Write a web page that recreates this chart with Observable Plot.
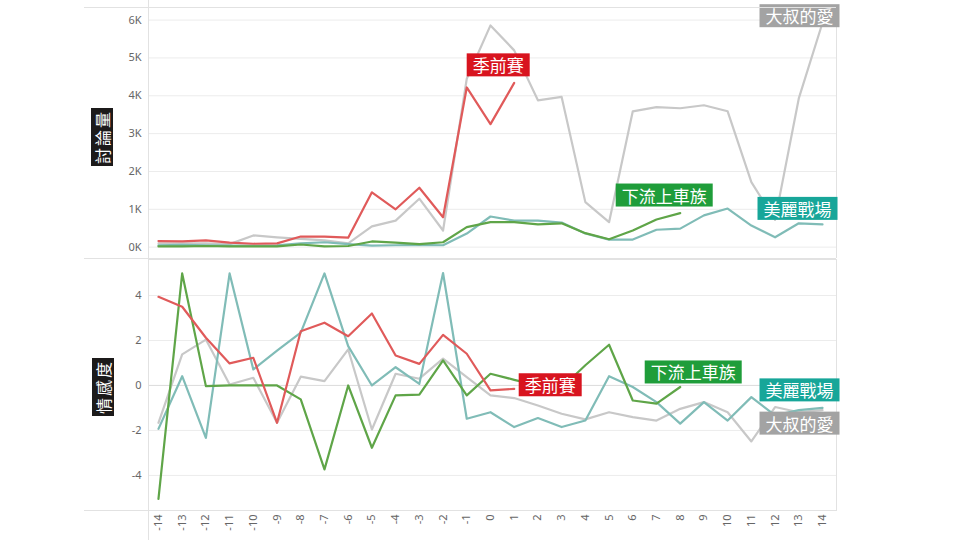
<!DOCTYPE html>
<html>
<head>
<meta charset="utf-8">
<script src="https://cdn.jsdelivr.net/npm/d3@7"></script>
<script src="https://cdn.jsdelivr.net/npm/@observablehq/plot@0.6"></script>
<style>
  body { margin: 0; background: #fff; }
  #wrap { position: relative; width: 960px; height: 540px; overflow: hidden; font-family: "Noto Sans", "Open Sans", sans-serif; }
  #wrap svg { display: block; }
  .hline { position: absolute; left: 84px; width: 752px; height: 0; border-top: 1px solid #e2e2e2; }
  .vline { position: absolute; top: 0; height: 540px; width: 0; border-left: 1px solid #e2e2e2; }
  .ytitle { position: absolute; width: 58px; height: 22px; line-height: 22px; background: #1c1a1a; color: #fff;
            font-family: "Noto Sans CJK TC", sans-serif; font-size: 16px; text-align: center; letter-spacing: 2px;
            transform: rotate(-90deg); }
</style>
</head>
<body>
<div id="wrap">
  <div id="topPanel"></div>
  <div id="bottomPanel"></div>
</div>
<script>
// x: days relative to event
const days = d3.range(-14, 15);
const xTicks = days;

// series names
const names = ["季前賽", "大叔的愛", "下流上車族", "美麗戰場"];

// 討論量 (discussion volume)
const volRed   = [160,150,180,120,90,100,280,280,250,1450,1000,1570,790,4220,3250,4340];              // -14..1
const volGray  = [100,100,100,80,310,260,220,180,100,550,700,1280,440,4450,5860,5200,3880,3970,1190,660,3590,3700,3670,3750,3590,1720,720,3930,5930]; // -14..14
const volGreen = [20,20,30,20,20,20,70,20,30,150,120,80,130,530,660,660,600,630,370,210,440,730,900];   // -14..8
const volTeal  = [50,60,50,40,40,50,100,130,80,40,50,60,50,360,810,700,700,650,360,200,200,460,490,840,1020,570,260,630,600]; // -14..14

// 情感度 (sentiment)
const senRed   = [3.94,3.5,2.12,0.98,1.23,-1.66,2.41,2.79,2.19,3.2,1.33,0.96,2.25,1.41,-0.22,-0.15];
const senGray  = [-1.66,1.38,2.04,0.04,0.34,-1.66,0.39,0.19,1.6,-1.96,0.52,0.3,1.19,0.37,-0.44,-0.56,-0.89,-1.26,-1.51,-1.19,-1.41,-1.56,-1.04,-0.74,-1.19,-2.49,-0.96,-1.19,-1.1];
const senGreen = [-5.04,4.98,-0.03,0,0,0,-0.62,-3.73,0,-2.77,-0.44,-0.41,1.11,-0.44,0.52,0.25,0.0,-0.1,0.9,1.81,-0.67,-0.81,-0.07];
const senTeal  = [-1.93,0.41,-2.33,4.98,0.71,1.55,2.35,4.98,1.75,0.0,0.81,0.07,5.0,-1.48,-1.19,-1.85,-1.45,-1.85,-1.56,0.41,-0.07,-0.74,-1.7,-0.74,-1.56,-0.52,-1.33,-1.1,-1.0];

const volTicks = [0,1000,2000,3000,4000,5000,6000];
const senTicks = [-4,-2,0,2,4];

const lineColor = {"季前賽": "#e05a5a", "大叔的愛": "#c8c8c8", "下流上車族": "#5fa548", "美麗戰場": "#80bcb7"};
const boxColor  = {"季前賽": "#d8141f", "大叔的愛": "#a3a3a3", "下流上車族": "#1f9d3a", "美麗戰場": "#17a699"};

function toRows(name, vals) { return vals.map((v, i) => ({name, x: days[i], y: v})); }
const volRows = [toRows("大叔的愛", volGray), toRows("美麗戰場", volTeal), toRows("下流上車族", volGreen), toRows("季前賽", volRed)];
const senRows = [toRows("大叔的愛", senGray), toRows("美麗戰場", senTeal), toRows("下流上車族", senGreen), toRows("季前賽", senRed)];

const xDomain = [-14.42, 14.59];
const tickFont = "11px";

function labelMark(rows, name, xv, dx, dy) {
  const d = rows.flat().filter(r => r.name === name && r.x === xv);
  return Plot.text(d, {x: "x", y: "y", text: d => d.name, dx, dy, fill: "white",
    fontSize: 17, fontFamily: "Noto Sans CJK TC", textAnchor: "middle", lineAnchor: "middle"});
}

function lines(rows) {
  return rows.map(r => Plot.line(r, {x: "x", y: "y", stroke: lineColor[r[0].name], strokeWidth: 2.2, curve: "linear"}));
}

const topPlot = Plot.plot({
  width: 960, height: 258,
  marginLeft: 148, marginRight: 124, marginTop: 7, marginBottom: 0,
  style: {fontFamily: "Noto Sans, sans-serif", fontSize: tickFont, color: "#666", background: "transparent"},
  x: {domain: xDomain, axis: null},
  y: {domain: [-300, 6333], ticks: volTicks, tickFormat: d => d / 1000 + "K", tickSize: 0, tickPadding: 7, label: null, grid: false},
  marks: [
    Plot.gridY(volTicks, {stroke: "#ececec", strokeOpacity: 1}),
    Plot.frame({stroke: "#e2e2e2"}),
    ...lines(volRows),
    labelMark(volRows, "季前賽", 1, -16, -16),
    labelMark(volRows, "大叔的愛", 14, -23, -5),
    labelMark(volRows, "下流上車族", 8, -16, -16),
    labelMark(volRows, "美麗戰場", 14, -25, -14)
  ]
});

const bottomPlot = Plot.plot({
  width: 960, height: 282,
  marginLeft: 148, marginRight: 124, marginTop: 1, marginBottom: 30,
  style: {fontFamily: "Noto Sans, sans-serif", fontSize: tickFont, color: "#666", background: "transparent"},
  x: {domain: xDomain, ticks: xTicks, tickFormat: d => String(d), tickRotate: -90, tickSize: 0, tickPadding: 4, label: null},
  y: {domain: [-5.56, 5.6], ticks: senTicks, tickFormat: d => String(d), tickSize: 0, tickPadding: 7, label: null},
  marks: [
    Plot.gridY(senTicks, {stroke: "#ececec", strokeOpacity: 1}),
    Plot.ruleY([0], {stroke: "#dedede"}),
    Plot.frame({stroke: "#e2e2e2"}),
    ...lines(senRows),
    labelMark(senRows, "季前賽", 1, 36, -2),
    labelMark(senRows, "下流上車族", 8, 13, -13),
    labelMark(senRows, "美麗戰場", 14, -23, -16),
    labelMark(senRows, "大叔的愛", 14, -23, 15)
  ]
});

document.getElementById("topPanel").appendChild(topPlot);
document.getElementById("bottomPanel").appendChild(bottomPlot);

// draw coloured boxes behind label texts
for (const svg of [topPlot, bottomPlot]) {
  svg.querySelectorAll('g[aria-label="text"] text').forEach(t => {
    const b = t.getBBox();
    const cy = b.y + b.height / 2;
    const r = document.createElementNS("http://www.w3.org/2000/svg", "rect");
    r.setAttribute("x", b.x - 6);
    r.setAttribute("y", cy - 11.5);
    r.setAttribute("width", b.width + 12);
    r.setAttribute("height", 23);
    r.setAttribute("fill", boxColor[t.textContent]);
    const tr = t.getAttribute("transform");
    if (tr) r.setAttribute("transform", tr);
    t.parentNode.insertBefore(r, t);
  });
}

// decorative extended border lines and axis titles
const wrap = document.getElementById("wrap");
for (const y of [7, 258, 510]) {
  const d = document.createElement("div"); d.className = "hline"; d.style.top = y + "px"; wrap.appendChild(d);
}
{ const d = document.createElement("div"); d.className = "vline"; d.style.left = "148px"; wrap.appendChild(d); }
function title(txt, cx, cy) {
  const d = document.createElement("div"); d.className = "ytitle"; d.textContent = txt;
  d.style.left = (cx - 29) + "px"; d.style.top = (cy - 11) + "px"; wrap.appendChild(d);
}
title("討論量", 102, 137);
title("情感度", 103, 387);
</script>
</body>
</html>
